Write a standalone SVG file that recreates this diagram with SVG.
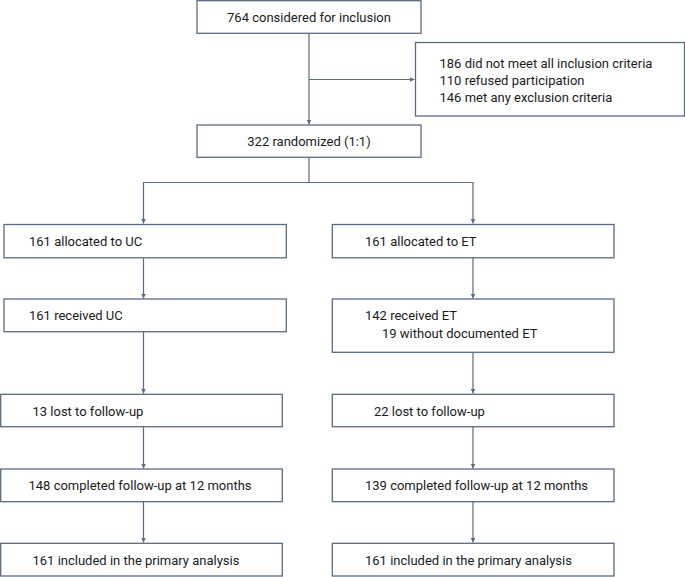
<svg xmlns="http://www.w3.org/2000/svg" width="685" height="577" viewBox="0 0 685 577">
<defs>
<marker id="ah" markerWidth="6" markerHeight="6" refX="5" refY="3" orient="auto" markerUnits="userSpaceOnUse">
<path d="M0,0.5 L5,3 L0,5.5 Z" fill="#5a6a80"/>
</marker>
<style>
.box{fill:#fff;stroke:#5a6a80;stroke-width:1.3}
.ln{fill:none;stroke:#5a6a80;stroke-width:1.2}
.t{font-family:Roboto,"Liberation Sans",sans-serif;font-size:13px;fill:#1a1a1a}
.c{text-anchor:middle}
</style>
</defs>
<rect width="685" height="577" fill="#fff"/>
<g id="connectors">
<path class="ln" d="M309,33.5 V124.5" marker-end="url(#ah)"/>
<path class="ln" d="M309,79.5 H414.5" marker-end="url(#ah)"/>
<path class="ln" d="M309,157.5 V182.5 H143.5 V223.5" marker-end="url(#ah)"/>
<path class="ln" d="M309,182.5 H473 V223.5" marker-end="url(#ah)"/>
<path class="ln" d="M143.5,258 V298.5" marker-end="url(#ah)"/>
<path class="ln" d="M473,258 V298.5" marker-end="url(#ah)"/>
<path class="ln" d="M143.5,332 V393.5" marker-end="url(#ah)"/>
<path class="ln" d="M473,352.5 V393.5" marker-end="url(#ah)"/>
<path class="ln" d="M143.5,427 V468.5" marker-end="url(#ah)"/>
<path class="ln" d="M473,427 V468.5" marker-end="url(#ah)"/>
<path class="ln" d="M143.5,502 V542.5" marker-end="url(#ah)"/>
<path class="ln" d="M473,502 V542.5" marker-end="url(#ah)"/>
</g>
<g id="n-considered">
<rect class="box" x="197" y="0.7" width="224" height="32.6"/>
<text class="t c" x="309" y="22">764 considered for inclusion</text>
</g>
<g id="n-excluded">
<rect class="box" x="415.5" y="42.5" width="269" height="73.5"/>
<text class="t" x="439.5" y="68">186 did not meet all inclusion criteria</text>
<text class="t" x="439.5" y="85">110 refused participation</text>
<text class="t" x="439.5" y="102">146 met any exclusion criteria</text>
</g>
<g id="n-randomized">
<rect class="box" x="197" y="125" width="224" height="32.3"/>
<text class="t c" x="309" y="146">322 randomized (1:1)</text>
</g>
<g id="n-alloc-uc">
<rect class="box" x="4" y="224.5" width="282.3" height="33.3"/>
<text class="t" x="29" y="246">161 allocated to UC</text>
</g>
<g id="n-alloc-et">
<rect class="box" x="332.3" y="224.5" width="281.7" height="33.3"/>
<text class="t" x="365" y="246">161 allocated to ET</text>
</g>
<g id="n-recv-uc">
<rect class="box" x="4" y="299" width="282.3" height="32.7"/>
<text class="t" x="29" y="320">161 received UC</text>
</g>
<g id="n-recv-et">
<rect class="box" x="332.3" y="299" width="281.7" height="53.3"/>
<text class="t" x="365" y="320">142 received ET</text>
<text class="t" x="382" y="338">19 without documented ET</text>
</g>
<g id="n-lost-uc">
<rect class="box" x="0.7" y="394.3" width="281.6" height="32.4"/>
<text class="t" x="32.5" y="416">13 lost to follow-up</text>
</g>
<g id="n-lost-et">
<rect class="box" x="332.3" y="394.3" width="281.7" height="32.4"/>
<text class="t" x="374" y="416">22 lost to follow-up</text>
</g>
<g id="n-comp-uc">
<rect class="box" x="0.7" y="469" width="281.6" height="32.7"/>
<text class="t" x="28.5" y="490">148 completed follow-up at 12 months</text>
</g>
<g id="n-comp-et">
<rect class="box" x="332.3" y="469" width="281.7" height="32.7"/>
<text class="t" x="365" y="490">139 completed follow-up at 12 months</text>
</g>
<g id="n-incl-uc">
<rect class="box" x="0.7" y="543.3" width="281.6" height="32.7"/>
<text class="t" x="32.5" y="565">161 included in the primary analysis</text>
</g>
<g id="n-incl-et">
<rect class="box" x="332.3" y="543.3" width="281.7" height="32.7"/>
<text class="t" x="365" y="565">161 included in the primary analysis</text>
</g>
</svg>
